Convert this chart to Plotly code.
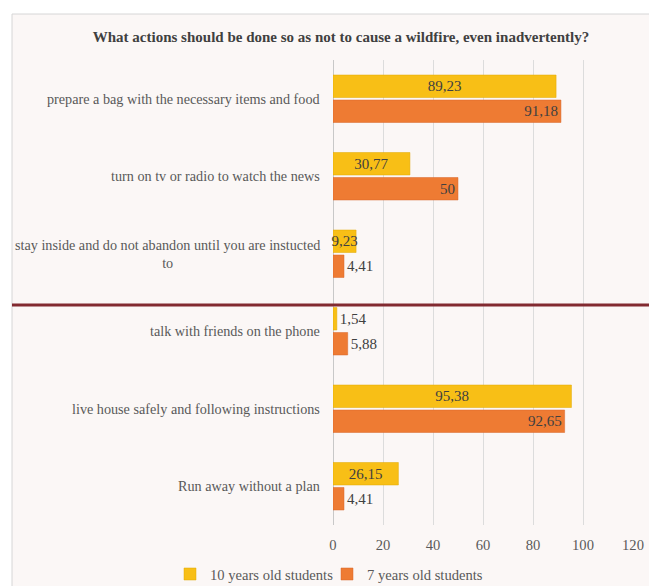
import plotly.graph_objects as go

categories = [
    "prepare a bag with the necessary items and food",
    "turn on tv or radio to watch the news",
    "stay inside and do not abandon until you are instucted<br>to",
    "talk with friends on the phone",
    "live house safely and following instructions",
    "Run away without a plan",
]
series_names = ["10 years old students", "7 years old students"]
values_10 = [89.23, 30.77, 9.23, 1.54, 95.38, 26.15]
values_7 = [91.18, 50, 4.41, 5.88, 92.65, 4.41]
x_ticks = [0, 20, 40, 60, 80, 100, 120]
title_text = "What actions should be done so as not to cause a wildfire, even inadvertently?"

SERIF = "Liberation Serif, Times New Roman, serif"
YELLOW = "#F8BF16"
ORANGE = "#EE7B33"

W, H = 649, 586
L, R, T, B = 333, 16, 60, 61
PW, PH = W - L - R, H - T - B


def fmt(v):
    return f"{v:g}".replace(".", ",")


def px_x(px):
    return (px - L) / PW


def px_y(py):
    return (H - B - py) / PH


fig = go.Figure()
fig.add_trace(go.Bar(
    name=series_names[0], y=categories, x=values_10, orientation="h",
    marker=dict(color=YELLOW, line=dict(color="#E0A800", width=0.5)),
    text=[fmt(v) for v in values_10],
    textposition=["inside" if v >= 5 else "outside" for v in values_10],
    insidetextanchor="middle", constraintext="none",
    textfont=dict(family=SERIF, size=15, color="#404040"),
    cliponaxis=False,
))
fig.add_trace(go.Bar(
    name=series_names[1], y=categories, x=values_7, orientation="h",
    marker=dict(color=ORANGE, line=dict(color="#D9662A", width=0.5)),
    text=[fmt(v) for v in values_7],
    textposition="auto",
    insidetextanchor="end", constraintext="none",
    textfont=dict(family=SERIF, size=15, color="#404040"),
    cliponaxis=False,
))

# category labels as centred multi-line annotations
for c in categories:
    fig.add_annotation(
        x=0, xref="paper", y=c, yref="y", text=c, showarrow=False,
        xanchor="right", yanchor="middle", align="center", xshift=-11,
        font=dict(family=SERIF, size=14.2, color="#595959"),
    )

# chart frame and separator line
fig.add_shape(type="rect", xref="paper", yref="paper",
              x0=px_x(12), x1=px_x(W + 5), y0=px_y(H + 5), y1=px_y(14),
              fillcolor="#FBF7F6", line=dict(color="#D6D6D6", width=1), layer="below")
fig.add_shape(type="line", xref="paper", yref="paper",
              x0=px_x(12), x1=px_x(W + 5), y0=px_y(305), y1=px_y(305),
              line=dict(color="#822A30", width=3))

fig.update_layout(
    width=W, height=H,
    margin=dict(l=L, r=R, t=T, b=B, autoexpand=False),
    paper_bgcolor="white", plot_bgcolor="rgba(0,0,0,0)",
    barmode="group", bargap=0.355, bargroupgap=0.1,
    title=dict(text=f"<b>{title_text}</b>", x=341 / W, xanchor="center",
               y=1 - 37 / H, yanchor="middle",
               font=dict(family=SERIF, size=15, color="#404040")),
    xaxis=dict(range=[0, 120], tickvals=x_ticks, showgrid=True,
               gridcolor="#DCDCDC", gridwidth=1, zeroline=True,
               zerolinecolor="#C8C8C8", zerolinewidth=1, showline=False,
               ticks="", ticklabelstandoff=9, automargin=False,
               tickfont=dict(family=SERIF, size=14.6, color="#595959"),
               fixedrange=True),
    yaxis=dict(autorange="reversed", showticklabels=False, showgrid=False,
               ticks="", showline=False, zeroline=False, automargin=False),
    legend=dict(orientation="h", xref="paper", yref="paper",
                x=px_x(170), xanchor="left", y=px_y(574), yanchor="middle",
                traceorder="normal", itemwidth=30, entrywidth=112,
                font=dict(family=SERIF, size=14.6, color="#595959"),
                bgcolor="rgba(0,0,0,0)"),
    showlegend=True,
)

fig.write_html(
    "out.html",
    config={"displayModeBar": False},
    post_script="document.body.style.margin='0';document.body.style.overflow='hidden';",
)
